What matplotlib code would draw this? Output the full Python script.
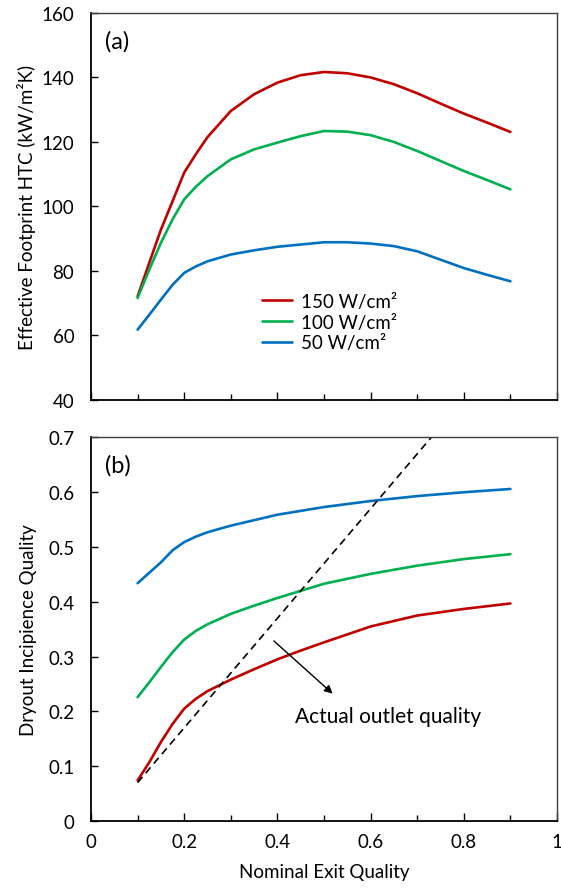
import matplotlib
matplotlib.use("Agg")
import matplotlib.pyplot as plt
from matplotlib.ticker import MultipleLocator

plt.rcParams["font.family"] = ["Lato", "DejaVu Sans"]

# ── Data ────────────────────────────────────────────────────────────────────
x_htc = [0.10, 0.125, 0.15, 0.175, 0.20, 0.225, 0.25, 0.30, 0.35, 0.40,
         0.45, 0.50, 0.55, 0.60, 0.65, 0.70, 0.75, 0.80, 0.85, 0.90]
htc_150 = [72.1, 82.5, 92.8, 101.6, 110.5, 116.2, 121.5, 129.6, 134.8, 138.4,
           140.7, 141.7, 141.3, 140.0, 137.9, 135.1, 131.9, 128.8, 126.0, 123.1]
htc_100 = [71.6, 80.4, 88.7, 96.0, 102.2, 106.1, 109.4, 114.6, 117.7, 119.8,
           121.8, 123.4, 123.2, 122.1, 120.0, 117.2, 114.1, 111.0, 108.2, 105.3]
htc_50  = [61.8, 66.4, 71.1, 75.7, 79.4, 81.4, 83.0, 85.1, 86.4, 87.5,
           88.2, 88.9, 88.9, 88.5, 87.7, 86.1, 83.5, 80.9, 78.8, 76.8]

x_dry = [0.10, 0.125, 0.15, 0.175, 0.20, 0.225, 0.25, 0.30, 0.35, 0.40,
         0.45, 0.50, 0.60, 0.70, 0.80, 0.90]
dry_150 = [0.074, 0.107, 0.144, 0.177, 0.205, 0.223, 0.237, 0.258, 0.277, 0.295,
           0.311, 0.326, 0.355, 0.375, 0.387, 0.397]
dry_100 = [0.226, 0.253, 0.281, 0.308, 0.331, 0.347, 0.359, 0.378, 0.393, 0.407,
           0.420, 0.433, 0.451, 0.466, 0.478, 0.487]
dry_50  = [0.434, 0.453, 0.472, 0.494, 0.509, 0.519, 0.527, 0.539, 0.549, 0.559,
           0.566, 0.573, 0.584, 0.593, 0.600, 0.606]

outlet_x = [0.10, 0.90]
outlet_y = [0.07, 0.87]

labels = ["150 W/cm\u00b2", "100 W/cm\u00b2", "50 W/cm\u00b2"]
colors = ["#C00000", "#00B050", "#0070C0"]

# ── Figure ──────────────────────────────────────────────────────────────────
fig = plt.figure(figsize=(5.61, 8.95), dpi=100)
ax1 = fig.add_axes([0.1622, 0.5520, 0.8307, 0.4324])
ax2 = fig.add_axes([0.1622, 0.0816, 0.8307, 0.4285])

FS = 13.5
fmt_g = plt.FuncFormatter(lambda v, p: f"{v:g}")

for ax in (ax1, ax2):
    ax.set_xlim(0, 1)
    ax.xaxis.set_major_locator(MultipleLocator(0.2))
    ax.xaxis.set_minor_locator(MultipleLocator(0.1))
    ax.tick_params(axis="x", which="major", direction="in", length=6, width=1,
                   labelsize=FS, pad=9)
    ax.tick_params(axis="x", which="minor", direction="in", length=4, width=1)
    ax.tick_params(axis="y", which="major", direction="in", length=5, width=1,
                   labelsize=FS, pad=12)
    ax.tick_params(top=False, right=False)
    for s in ("left", "bottom"):
        ax.spines[s].set_linewidth(1.3)
        ax.spines[s].set_color("black")
    for s in ("top", "right"):
        ax.spines[s].set_linewidth(1.0)
        ax.spines[s].set_color("#404040")

# ── (a) HTC ─────────────────────────────────────────────────────────────────
for y, c, lab in zip([htc_150, htc_100, htc_50], colors, labels):
    ax1.plot(x_htc, y, color=c, lw=1.9, label=lab, solid_capstyle="round")
ax1.set_ylim(40, 160)
ax1.yaxis.set_major_locator(MultipleLocator(20))
ax1.tick_params(axis="x", labelbottom=False)
ax1.set_ylabel("Effective Footprint HTC (kW/m\u00b2K)", fontsize=FS, labelpad=4)
ax1.text(0.03, 0.928, "(a)", transform=ax1.transAxes, fontsize=17, va="center")
ax1.legend(loc="upper left", bbox_to_anchor=(0.33, 0.32), frameon=False,
           fontsize=FS, handlelength=1.6, handletextpad=0.5, labelspacing=0.2)

# ── (b) Dryout incipience ───────────────────────────────────────────────────
for y, c in zip([dry_150, dry_100, dry_50], colors):
    ax2.plot(x_dry, y, color=c, lw=1.9, solid_capstyle="round")
ax2.plot(outlet_x, outlet_y, color="black", lw=1.2, ls=(0, (4.5, 3)))
ax2.set_ylim(0, 0.7)
ax2.yaxis.set_major_locator(MultipleLocator(0.1))
ax2.xaxis.set_major_formatter(fmt_g)
ax2.yaxis.set_major_formatter(fmt_g)
ax2.set_ylabel("Dryout Incipience Quality", fontsize=FS, labelpad=8)
ax2.set_xlabel("Nominal Exit Quality", fontsize=FS, labelpad=9)
ax2.text(0.03, 0.928, "(b)", transform=ax2.transAxes, fontsize=17, va="center")
ax2.annotate("", xy=(0.523, 0.229), xytext=(0.388, 0.332),
             arrowprops=dict(arrowstyle="-|>", color="black", lw=1,
                             mutation_scale=12))
ax2.text(0.437, 0.192, "Actual outlet quality", fontsize=15, va="center", ha="left")

plt.savefig("out.png", dpi=100)
plt.close()
